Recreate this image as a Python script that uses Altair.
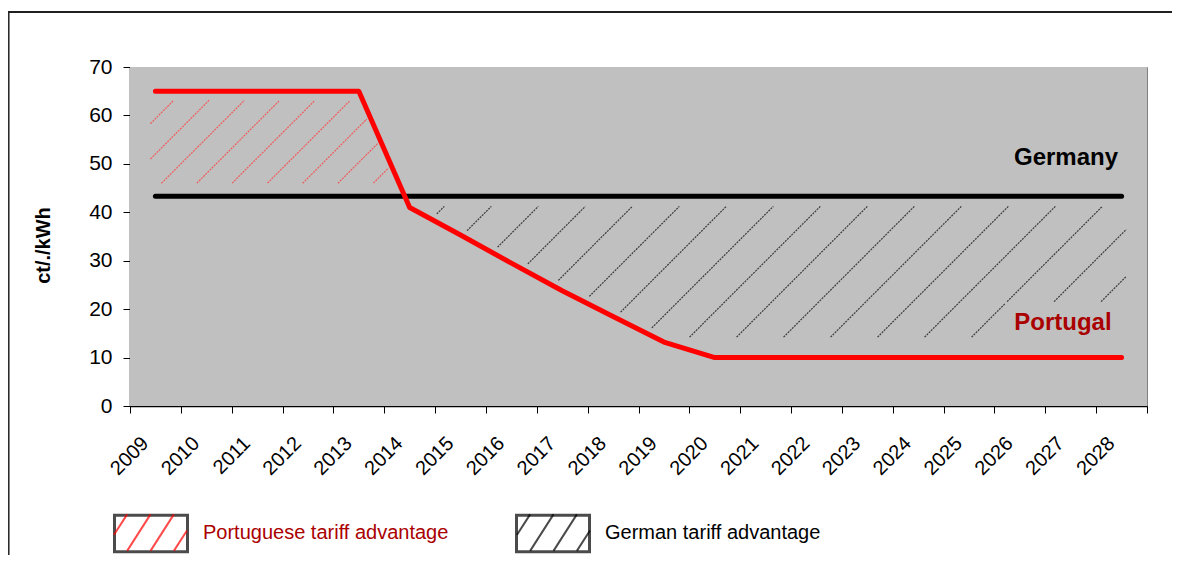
import altair as alt
import pandas as pd
import numpy as np

# ---------------- data ----------------
years = [2009, 2010, 2011, 2012, 2013, 2014, 2015, 2016, 2017, 2018,
         2019, 2020, 2021, 2022, 2023, 2024, 2025, 2026, 2027, 2028]
germany = [43.3, 43.3, 43.3, 43.3, 43.3, 43.3, 43.3, 43.3, 43.3, 43.3,
           43.3, 43.3, 43.3, 43.3, 43.3, 43.3, 43.3, 43.3, 43.3, 43.3]
portugal = [65, 65, 65, 65, 65, 41, 35.3, 29.5, 23.8, 18.5,
            13.2, 10, 10, 10, 10, 10, 10, 10, 10, 10]
series_names = ["Germany", "Portugal"]
legend_labels = ["Portuguese tariff advantage", "German tariff advantage"]
box_keys = ["box_pt", "box_de"]
y_ticks = [0, 10, 20, 30, 40, 50, 60, 70]
y_title = "ct/./kWh"

# ---------------- layout / style ----------------
W, H = 1017, 339
Y_MAX = 70
FONT = "Liberation Sans"
RED = "#ff0000"
DARKRED = "#aa0000"
BW = W / len(years)          # px per year
PXV = H / Y_MAX              # px per ct/kWh
x_lo = years[0] - 0.5
x_hi = years[-1] + 0.5

lines_df = pd.DataFrame({
    "year": years + years,
    "value": germany + portugal,
    "series": [series_names[0]] * len(years) + [series_names[1]] * len(years),
})
bg_df = pd.DataFrame({"year": [x_lo], "year2": [x_hi], "value": [0], "value2": [Y_MAX]})

# ---------------- hatch geometry (derived from the two series) ----------------
Xc = (np.array(years) - x_lo) * BW
redY = np.array(portugal) * PXV
blkY = np.array(germany) * PXV


def hatch(top_fn, bot_fn, x0, x1, c0, spacing):
    xs = np.arange(x0, x1, 0.25)
    top = top_fn(xs)
    bot = bot_fn(xs)
    cmin = (xs - top).min()
    cmax = (xs - bot).max()
    k0 = int(np.floor((cmin - c0) / spacing)) - 1
    k1 = int(np.ceil((cmax - c0) / spacing)) + 1
    segs = []
    for k in range(k0, k1 + 1):
        c = c0 + k * spacing
        Y = xs - c
        idx = np.where((Y >= bot) & (Y <= top))[0]
        if len(idx) == 0:
            continue
        br = np.where(np.diff(idx) > 1)[0]
        starts = np.concatenate([[idx[0]], idx[br + 1]])
        ends = np.concatenate([idx[br], [idx[-1]]])
        for s, e in zip(starts, ends):
            if e - s < 6:
                continue
            segs.append({"year": xs[s] / BW + x_lo, "value": Y[s] / PXV,
                         "year2": xs[e] / BW + x_lo, "value2": Y[e] / PXV})
    return pd.DataFrame(segs)


red_hatch = hatch(lambda x: np.interp(x, Xc, redY) - 9,
                  lambda x: np.interp(x, Xc, blkY) + 13,
                  Xc[0] - 5, Xc[5], -191.3, 35.3)


def black_bottom(x):
    b = np.maximum(np.interp(x, Xc, redY) + 8, 68.8)
    return np.where(x >= 875, np.maximum(b, 104.3), b)


black_hatch = hatch(lambda x: np.interp(x, Xc, blkY) - 10,
                    black_bottom,
                    Xc[4], Xc[-1] + 5, 490.7, 47.0)

# ---------------- encodings ----------------
x_enc = alt.X(
    "year:Q",
    scale=alt.Scale(domain=[x_lo, x_hi], nice=False, zero=False),
    axis=alt.Axis(
        values=[x_lo + i for i in range(len(years) + 1)],
        labelExpr=f"datum.value < {x_hi - 0.5} ? format(datum.value + 0.5, 'd') : ''",
        labelAngle=-45, labelAlign="right", labelBaseline="middle",
        labelOffset=15, labelPadding=27, labelFontSize=20, labelColor="black",
        labelOverlap=False, labelFlush=False, labelBound=False,
        tickSize=7, tickColor="black", tickWidth=1,
        domainColor="black", domainWidth=1.5, grid=False, title=None,
    ),
)
y_enc = alt.Y(
    "value:Q",
    scale=alt.Scale(domain=[0, Y_MAX], nice=False),
    axis=alt.Axis(
        values=y_ticks, labelFontSize=21, labelColor="black", labelPadding=11,
        tickSize=7, tickColor="black", domainColor="black", domainWidth=1.5,
        grid=False, title=y_title, titleFontSize=20, titleFontWeight="bold",
        titleColor="black", titleX=-87, titleY=178, titleAlign="center",
        titleBaseline="middle", titleAngle=-90,
    ),
)

background = alt.Chart(bg_df).mark_rect(color="#c0c0c0").encode(
    x=x_enc, x2="year2:Q", y=y_enc, y2="value2:Q")

red_hatch_layer = alt.Chart(red_hatch).mark_rule(
    color="#ff3a3a", strokeWidth=1.2, strokeDash=[2, 1], opacity=0.75
).encode(x=x_enc, y=y_enc, x2="year2:Q", y2="value2:Q")

black_hatch_layer = alt.Chart(black_hatch).mark_rule(
    color="#1a1a1a", strokeWidth=1.2, strokeDash=[2, 1], opacity=0.8
).encode(x=x_enc, y=y_enc, x2="year2:Q", y2="value2:Q")

germany_line = alt.Chart(lines_df).transform_filter(
    alt.datum.series == series_names[0]
).mark_line(color="black", strokeWidth=5, strokeCap="round", strokeJoin="round").encode(
    x=x_enc, y=y_enc)

portugal_line = alt.Chart(lines_df).transform_filter(
    alt.datum.series == series_names[1]
).mark_line(color=RED, strokeWidth=5, strokeCap="round", strokeJoin="round").encode(
    x=x_enc, y=y_enc)

germany_text = alt.Chart(lines_df).transform_filter(
    (alt.datum.series == series_names[0]) & (alt.datum.year == years[-1])
).mark_text(align="right", baseline="alphabetic", dx=-3.5, dy=-31, fontSize=24,
            fontWeight="bold", font=FONT, color="black").encode(
    x=x_enc, y=y_enc, text="series:N")

portugal_text = alt.Chart(lines_df).transform_filter(
    (alt.datum.series == series_names[1]) & (alt.datum.year == years[-1])
).mark_text(align="right", baseline="alphabetic", dx=-10, dy=-27.6, fontSize=24,
            fontWeight="bold", font=FONT, color=DARKRED).encode(
    x=x_enc, y=y_enc, text="series:N")

# ---------------- legend (two overlaid legends: black box with labels + hatch lines) ----------------
leg_df = pd.DataFrame({"tariff": legend_labels, "tariff_box": box_keys})
HATCH_PATH = "M-1,0.06L-0.64,-0.5M-0.64,0.5L0,-0.5M0,0.5L0.64,-0.5M0.64,0.5L1,-0.06"
BOX_PATH = "M-1,-0.5L1,-0.5L1,0.5L-1,0.5Z"
leg_common = dict(
    title=None, orient="none", legendX=-17, legendY=428, direction="horizontal",
    columns=2, symbolSize=73 * 73, labelFontSize=20, labelFont=FONT,
    labelOffset=14, padding=0, labelLimit=500,
)

# labelled legend: black boxes
legend_box = alt.Chart(leg_df).transform_filter("false").mark_point(
    filled=False, color="black", strokeWidth=3
).encode(
    shape=alt.Shape(
        "tariff:N",
        scale=alt.Scale(domain=legend_labels, range=[BOX_PATH, BOX_PATH]),
        legend=alt.Legend(
            symbolStrokeColor="black", symbolStrokeWidth=3,
            symbolFillColor="transparent", columnPadding=61,
            labelColor={"expr": f"datum.label == '{legend_labels[0]}' ? '{DARKRED}' : '#000000'"},
            **leg_common,
        ),
    )
)

# unlabelled legend on top: coloured hatch lines inside the boxes
legend_hatch = alt.Chart(leg_df).transform_filter("false").mark_point(
    filled=False, strokeWidth=2
).encode(
    stroke=alt.Stroke(
        "tariff_box:N",
        scale=alt.Scale(domain=box_keys, range=[RED, "black"]),
        legend=alt.Legend(
            symbolType=HATCH_PATH, symbolStrokeWidth=2, labelExpr="''",
            columnPadding=311,
            **leg_common,
        ),
    )
)

# ---------------- outer frame ----------------
frame_df = pd.DataFrame({"k": [0]})
frame_left = alt.Chart(frame_df).mark_rule(color="#202020", strokeWidth=1.5).encode(
    x=alt.value(-121.2), y=alt.value(-55), y2=alt.value(H + 150))
frame_top = alt.Chart(frame_df).mark_rule(color="#202020", strokeWidth=2).encode(
    x=alt.value(-122), x2=alt.value(W + 25), y=alt.value(-55))

chart = alt.layer(
    background, red_hatch_layer, black_hatch_layer, germany_line, portugal_line,
    germany_text, portugal_text, legend_box, legend_hatch, frame_left, frame_top,
).properties(
    width=W, height=H,
    padding={"left": 122, "top": 59, "right": 25, "bottom": 149},
    autosize=alt.AutoSizeParams(type="none"),
).configure(
    background="white", font=FONT,
).configure_view(
    fill="#c0c0c0", stroke="#808080", strokeWidth=1,
).configure_axis(
    labelFont=FONT, titleFont=FONT,
)

chart.save("out.html", embed_options={"renderer": "svg", "actions": False})
